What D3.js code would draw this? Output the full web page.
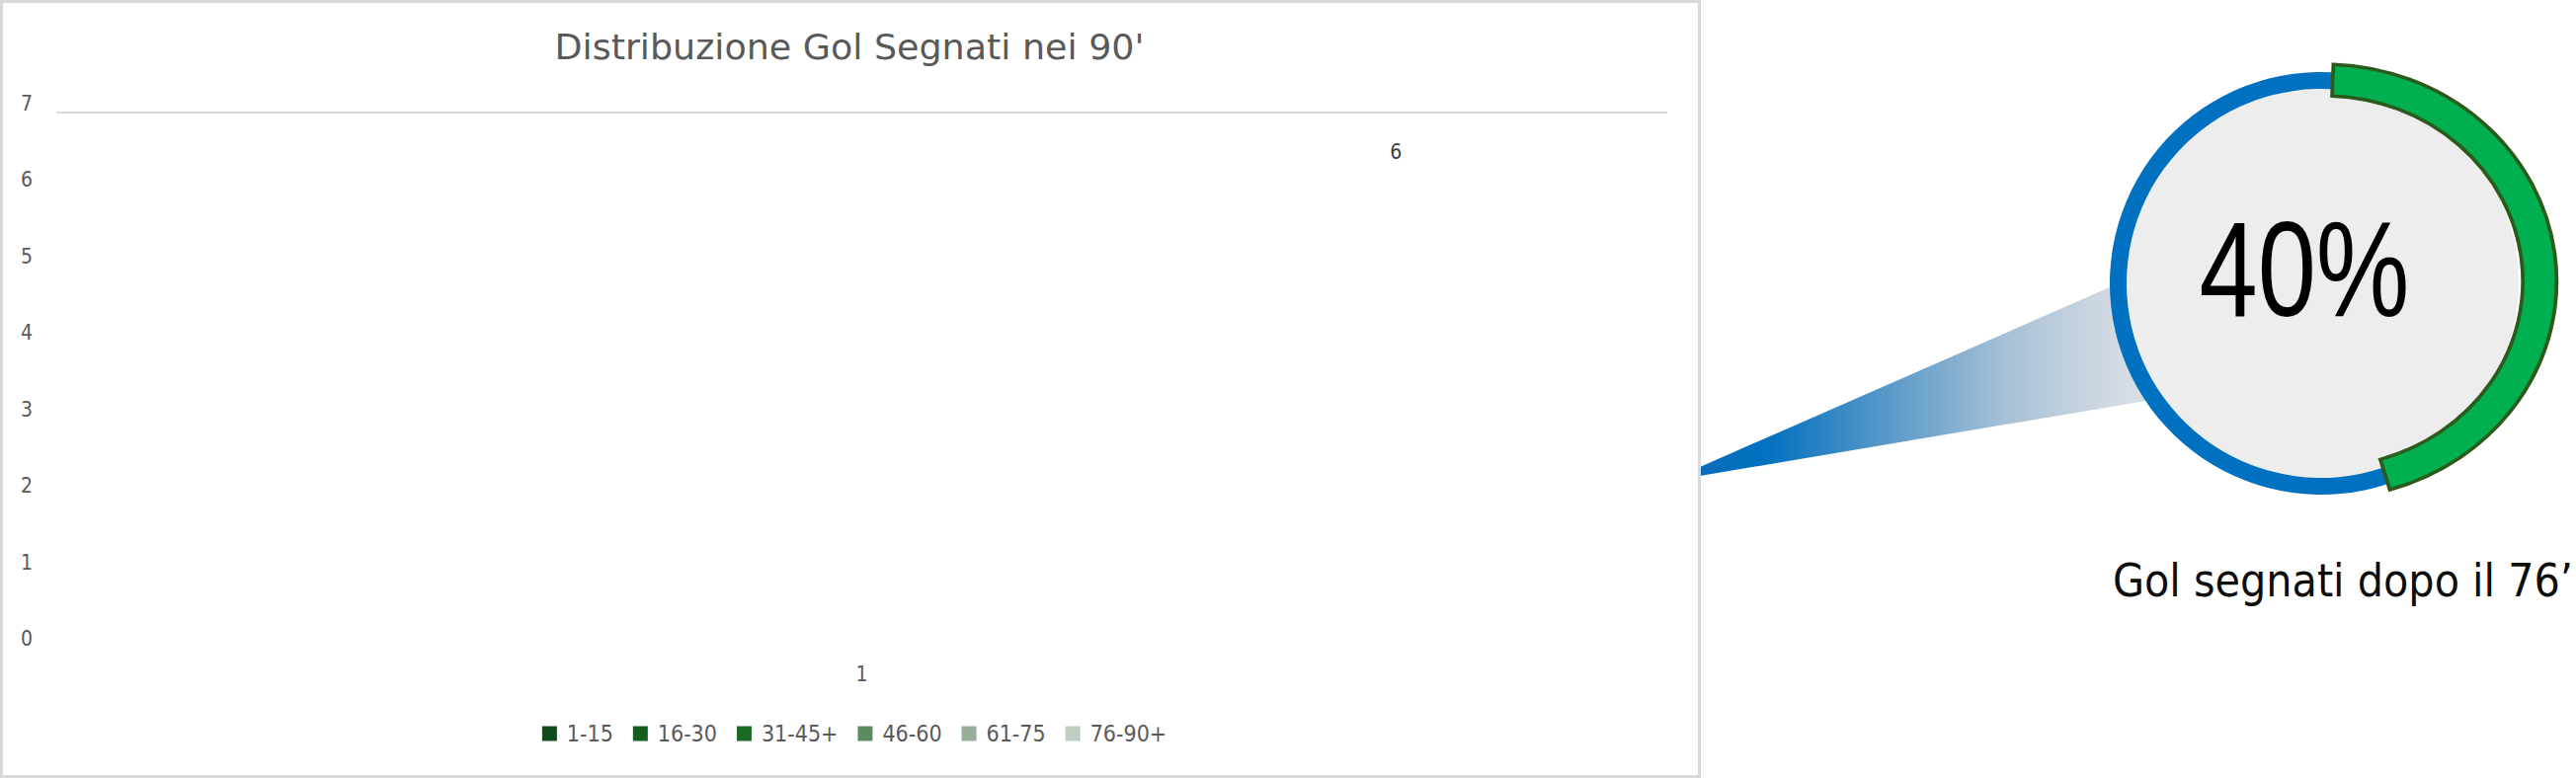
<!DOCTYPE html>
<html>
<head>
<meta charset="utf-8">
<script src="https://cdn.jsdelivr.net/npm/d3@7"></script>
<style>
  html, body { margin: 0; padding: 0; background: #ffffff; }
  svg { display: block; }
  .cf { font-family: "Liberation Sans Narrow", "DejaVu Sans Condensed", "DejaVu Sans", sans-serif; font-stretch: condensed; }
</style>
</head>
<body>
<svg id="chart" width="2608" height="788"></svg>
<script>
// ---------------- DATA ----------------
const chartTitle = "Distribuzione Gol Segnati nei 90'";
const categories = ["1"];
const seriesNames = ["1-15", "16-30", "31-45+", "46-60", "61-75", "76-90+"];
const seriesColors = ["#0f4c1a", "#155c21", "#1b6b27", "#5e8a62", "#97ae99", "#c1ccc3"];
// only the value of the last interval is readable in the picture (bars are not rendered)
const seriesValues = [null, null, null, null, null, 6];
const yTicks = [0, 1, 2, 3, 4, 5, 6, 7];
const gaugePercent = [40];
const gaugeCaption = "Gol segnati dopo il 76\u2019";

// ---------------- LAYOUT ----------------
const svg = d3.select("#chart");
const W = 2608, H = 788;
svg.append("rect").attr("width", W).attr("height", H).attr("fill", "#ffffff");

const plot = { left: 57, right: 1688, top: 114, bottom: 656 };

const y = d3.scaleLinear().domain([0, 7]).range([plot.bottom, plot.top]);
const x0 = d3.scaleBand().domain(categories).range([plot.left, plot.right]).padding(0);
const x1 = d3.scaleBand().domain(seriesNames).range([0, x0.bandwidth()])
  .paddingInner(0).paddingOuter(0.77);

// ---------- callout beam ----------
const defs = svg.append("defs");
const grad = defs.append("linearGradient").attr("id", "beam")
  .attr("gradientUnits", "userSpaceOnUse")
  .attr("x1", 1721).attr("y1", 0).attr("x2", 2150).attr("y2", 0);
[[0, "#0a6cbb"], [0.15, "#0070c0"], [0.45, "#5b9ac9"], [0.72, "#a6c0d6"], [1, "#d6dce4"]]
  .forEach(([o, c]) => grad.append("stop").attr("offset", o).attr("stop-color", c));
svg.append("path")
  .attr("d", "M1721,473 L2250,241 L2250,393 L1721,482 Z")
  .attr("fill", "url(#beam)");

// ---------- chart frame ----------
svg.append("rect")
  .attr("x", 1.5).attr("y", 1.5).attr("width", 1719).attr("height", 785)
  .attr("fill", "#ffffff").attr("stroke", "#d9d9d9").attr("stroke-width", 3);

// title
svg.append("text").attr("class", "cf")
  .attr("x", 860).attr("y", 60)
  .attr("text-anchor", "middle")
  .attr("font-size", 36).attr("fill", "#595959")
  .attr("textLength", 597).attr("lengthAdjust", "spacingAndGlyphs")
  .text(chartTitle);

// gridline only at top value
svg.append("line")
  .attr("x1", plot.left).attr("x2", plot.right)
  .attr("y1", y(7)).attr("y2", y(7))
  .attr("stroke", "#d9d9d9").attr("stroke-width", 2);

// y tick labels
svg.selectAll(".ytick").data(yTicks).enter().append("text")
  .attr("class", "cf ytick")
  .attr("x", 33).attr("y", d => y(d) - 2)
  .attr("text-anchor", "end")
  .attr("font-size", 21).attr("fill", "#595959")
  .text(d => d);

// category label
svg.selectAll(".xcat").data(categories).enter().append("text")
  .attr("class", "cf xcat")
  .attr("x", d => x0(d) + x0.bandwidth() / 2)
  .attr("y", y(0) + 34)
  .attr("text-anchor", "middle")
  .attr("font-size", 21).attr("fill", "#595959")
  .text(d => d);

// bars (not filled in the reference) + data labels
const pts = seriesNames.map((s, i) => ({ s, v: seriesValues[i], c: seriesColors[i] }))
  .filter(d => d.v !== null);
const g = svg.append("g").attr("transform", `translate(${x0(categories[0])},0)`);
g.selectAll("rect.bar").data(pts).enter().append("rect")
  .attr("class", "bar")
  .attr("x", d => x1(d.s)).attr("width", x1.bandwidth())
  .attr("y", d => y(d.v)).attr("height", d => y(0) - y(d.v))
  .attr("fill", "none");
g.selectAll("text.dl").data(pts).enter().append("text")
  .attr("class", "cf dl")
  .attr("x", d => x1(d.s) + x1.bandwidth() / 2)
  .attr("y", d => y(d.v) - 30)
  .attr("text-anchor", "middle")
  .attr("font-size", 21).attr("fill", "#404040")
  .text(d => d.v);

// legend
const leg = svg.append("g");
let cx = 0;
seriesNames.forEach((s, i) => {
  const it = leg.append("g");
  it.append("rect").attr("x", 0).attr("y", -7.5).attr("width", 15).attr("height", 15)
    .attr("fill", seriesColors[i]);
  const t = it.append("text").attr("class", "cf").attr("x", 25).attr("y", 7.5)
    .attr("font-size", 23).attr("fill", "#595959").text(s);
  const tw = t.node().getComputedTextLength();
  it.attr("transform", `translate(${cx},0)`);
  cx += 25 + tw + 20;
});
const legW = cx - 20;
leg.attr("transform", `translate(${865 - legW / 2},743)`);

// ---------- gauge ----------
const gc = { x: 2350, y: 287 };
const greenStart = 0.04;
const greenEnd = greenStart + gaugePercent[0] / 100 * 2 * Math.PI * 1.12;
svg.append("circle").attr("cx", gc.x).attr("cy", gc.y).attr("r", 200)
  .attr("fill", "#ededed");
const blueArc = d3.arc().innerRadius(197).outerRadius(214);
svg.append("path")
  .attr("transform", `translate(${gc.x},${gc.y})`)
  .attr("d", blueArc({ startAngle: greenEnd - 0.15, endAngle: 2 * Math.PI + greenStart + 0.05 }))
  .attr("fill", "#0070c0");
const arc = d3.arc().innerRadius(188).outerRadius(220);
svg.append("path")
  .attr("transform", `translate(${gc.x + 3},${gc.y - 2}) scale(1.07,1)`)
  .attr("d", arc({ startAngle: greenStart, endAngle: greenEnd }))
  .attr("fill", "#00b050").attr("stroke", "#2b5a1a").attr("stroke-width", 3.5);

svg.append("text")
  .attr("x", 2333).attr("y", 320)
  .attr("text-anchor", "middle")
  .attr("font-family", "Liberation Sans, Arial, sans-serif")
  .attr("font-size", 137).attr("fill", "#000000")
  .attr("textLength", 213).attr("lengthAdjust", "spacingAndGlyphs")
  .text(gaugePercent[0] + "%");

svg.append("text").attr("class", "cf")
  .attr("x", 2372).attr("y", 604)
  .attr("text-anchor", "middle")
  .attr("font-size", 46).attr("fill", "#0d0d0d")
  .text(gaugeCaption);
</script>
</body>
</html>
